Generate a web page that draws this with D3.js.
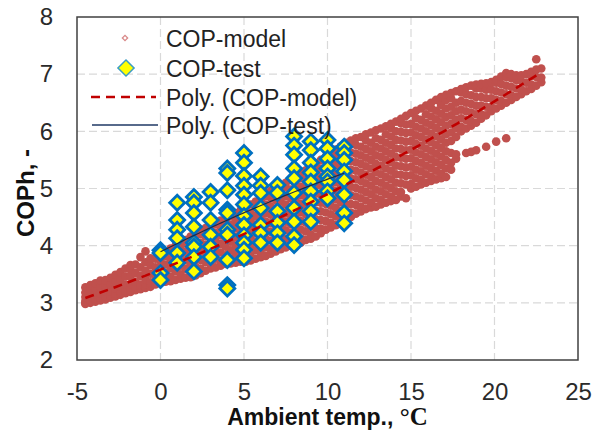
<!DOCTYPE html>
<html>
<meta charset="utf-8">
<script src="https://d3js.org/d3.v7.min.js"></script>
<style>
  body { margin: 0; background: #fff; }
</style>
<body>
<div id="chart"></div>
<script>

// axis ticks
var xTicks = [-5, 0, 5, 10, 15, 20, 25];
var yTicks = [2, 3, 4, 5, 6, 7, 8];

// COP-model: ambient temperature and the COP values found at that temperature
var modelTemp = [-4.5,-4.2,-3.9,-3.6,-3.3,-3.0,-2.7,-2.4,-2.1,-1.8,-1.5,-1.2,-0.9,-0.6,-0.3,0,0.3,0.6,0.9,1.2,1.5,1.8,2.1,2.4,2.7,3.0,3.3,3.6,3.9,4.2,4.5,4.8,5.1,5.4,5.7,6.0,6.3,6.6,6.9,7.2,7.5,7.8,8.1,8.4,8.7,9.0,9.3,9.6,9.9,10.2,10.5,10.8,11.1,11.4,11.7,12.0,12.3,12.6,12.9,13.2,13.5,13.8,14.1,14.4,14.7,15.0,15.3,15.6,15.9,16.2,16.5,16.8,17.1,17.4,17.7,18.0,18.3,18.6,18.9,19.2,19.5,19.8,20.1,20.4,20.7,21.0,21.3,21.6,21.9,22.2,22.5,22.8];
var modelCop = [
  [2.98,3.00,3.03,3.10,3.18,3.27],
  [3.00,3.02,3.05,3.12,3.22,3.31],
  [3.02,3.04,3.07,3.15,3.24,3.34],
  [3.04,3.06,3.09,3.16,3.28,3.39],
  [3.06,3.08,3.11,3.20,3.30,3.40],
  [3.09,3.11,3.13,3.20,3.33,3.44],
  [3.11,3.13,3.16,3.25,3.38,3.49],
  [3.14,3.16,3.19,3.28,3.41,3.54],
  [3.17,3.19,3.22,3.32,3.46,3.60],
  [3.19,3.21,3.24,3.33,3.46,3.58,3.66],
  [3.22,3.24,3.28,3.37,3.52,3.67],
  [3.24,3.26,3.30,3.32,3.47,3.62,3.80],
  [3.26,3.28,3.33,3.41,3.56,3.71,3.90],
  [3.28,3.30,3.34,3.36,3.51,3.66,3.78],
  [3.32,3.34,3.38,3.47,3.62,3.77],
  [3.35,3.37,3.40,3.43,3.58,3.73,3.82],
  [3.37,3.52,3.67,3.82,3.88],
  [3.38,3.46,3.61,3.76,3.91,3.95],
  [3.40,3.55,3.70,3.85,4.00],
  [3.42,3.50,3.65,3.80,3.95,4.05],
  [3.44,3.59,3.74,3.89,4.04,4.10],
  [3.45,3.53,3.68,3.83,3.98,4.13,4.16],
  [3.48,3.63,3.78,3.93,4.08,4.22],
  [3.52,3.60,3.75,3.90,4.05,4.20,4.27],
  [3.56,3.71,3.86,4.01,4.16,4.31],
  [3.60,3.68,3.83,3.98,4.13,4.28,4.36],
  [3.62,3.77,3.92,4.07,4.22,4.37,4.40],
  [3.65,3.73,3.88,4.03,4.18,4.33,4.44],
  [3.68,3.83,3.98,4.13,4.28,4.43,4.48],
  [3.69,3.77,3.92,4.07,4.22,4.37,4.52],
  [3.70,3.85,4.00,4.15,4.30,4.45,4.57],
  [3.72,3.80,3.95,4.10,4.25,4.40,4.55,4.62],
  [3.72,3.87,4.02,4.17,4.32,4.47,4.62,4.67],
  [3.74,3.82,3.97,4.12,4.27,4.42,4.57,4.72],
  [3.77,3.92,4.07,4.22,4.37,4.52,4.67,4.77],
  [3.80,3.88,4.03,4.18,4.33,4.48,4.63,4.78,4.82],
  [3.82,3.97,4.12,4.27,4.42,4.57,4.72,4.87,4.92],
  [3.86,3.94,4.09,4.24,4.39,4.54,4.69,4.84,4.96],
  [3.90,4.05,4.20,4.35,4.50,4.65,4.80,4.95,5.00],
  [3.94,4.02,4.17,4.32,4.47,4.62,4.77,4.92,5.05],
  [3.97,4.12,4.27,4.42,4.57,4.72,4.87,5.02,5.10],
  [4.00,4.08,4.23,4.38,4.53,4.68,4.83,4.98,5.15],
  [4.03,4.18,4.33,4.48,4.63,4.78,4.93,5.08,5.20],
  [4.05,4.13,4.28,4.43,4.58,4.73,4.88,5.03,5.18,5.26],
  [4.10,4.25,4.40,4.55,4.70,4.85,5.00,5.15,5.32],
  [4.12,4.20,4.35,4.50,4.65,4.80,4.95,5.10,5.25,5.38],
  [4.16,4.31,4.46,4.61,4.76,4.91,5.06,5.21,5.36,5.44],
  [4.22,4.30,4.45,4.60,4.75,4.90,5.05,5.20,5.35,5.50],
  [4.28,4.43,4.58,4.73,4.88,5.03,5.18,5.33,5.48,5.56],
  [4.32,4.40,4.55,4.70,4.85,5.00,5.15,5.30,5.45,5.62],
  [4.36,4.51,4.66,4.81,4.96,5.11,5.26,5.41,5.56,5.68],
  [4.38,4.46,4.61,4.76,4.91,5.06,5.21,5.36,5.51,5.66,5.74],
  [4.42,4.57,4.72,4.87,5.02,5.17,5.32,5.47,5.62,5.80],
  [4.50,4.58,4.73,4.88,5.03,5.18,5.33,5.48,5.63,5.78,5.84],
  [4.56,4.71,4.86,5.01,5.16,5.31,5.46,5.61,5.76,5.88],
  [4.60,4.68,4.83,4.98,5.13,5.28,5.43,5.58,5.73,5.90],
  [4.64,4.79,4.94,5.09,5.24,5.39,5.54,5.69,5.84,5.95],
  [4.67,4.75,4.90,5.05,5.20,5.35,5.50,5.65,5.80,5.98],
  [4.68,4.83,4.98,5.13,5.28,5.43,5.58,5.73,5.88,6.02],
  [4.72,4.80,4.95,5.10,5.25,5.40,5.55,5.70,5.85,6.05],
  [4.75,4.90,5.05,5.20,5.35,5.50,5.65,5.80,5.95,6.09],
  [4.78,4.86,5.01,5.16,5.31,5.46,5.61,5.76,5.91,6.06,6.13],
  [4.80,4.95,5.10,5.25,5.40,5.55,5.70,5.85,6.00,6.17],
  [4.86,4.94,5.09,5.24,5.39,5.54,5.69,5.84,5.99,6.14,6.22],
  [4.83,5.07,5.22,5.37,5.52,5.67,5.82,5.97,6.12,6.27],
  [5.00,5.08,5.23,5.38,5.53,5.68,5.83,5.98,6.13,6.32],
  [5.03,5.18,5.33,5.48,5.63,5.78,5.93,6.08,6.23,6.36],
  [5.07,5.15,5.30,5.45,5.60,5.75,5.90,6.05,6.20,6.40],
  [5.10,5.25,5.40,5.55,5.70,5.85,6.00,6.15,6.30,6.45],
  [5.13,5.21,5.36,5.51,5.66,5.81,5.96,6.11,6.26,6.41,6.50],
  [5.16,5.31,5.46,5.61,5.76,5.91,6.06,6.21,6.36,6.55],
  [5.18,5.26,5.41,5.56,5.71,5.86,6.01,6.16,6.31,6.46,6.60],
  [5.20,5.35,5.50,5.65,5.80,5.95,6.10,6.25,6.40,6.55,6.64],
  [5.33,5.45,5.62,5.83,5.98,6.13,6.28,6.43,6.58,6.67],
  [5.52,5.60,5.90,6.05,6.20,6.35,6.50,6.70],
  [6.00,6.08,6.23,6.38,6.53,6.68,6.74],
  [5.62,6.05,6.20,6.35,6.50,6.65,6.77],
  [5.64,6.10,6.18,6.33,6.48,6.63,6.80],
  [5.67,6.15,6.30,6.45,6.60,6.75,6.82],
  [6.22,6.30,6.45,6.60,6.75,6.83],
  [5.73,6.28,6.43,6.58,6.73,6.84],
  [6.35,6.43,6.58,6.73,6.86],
  [5.82,6.40,6.55,6.70,6.85,6.90],
  [6.45,6.53,6.68,6.83,6.96],
  [5.88,6.50,6.65,6.80,6.95,7.02],
  [6.55,6.63,6.78,6.93,7.00],
  [6.60,6.75,6.90,6.98],
  [6.65,6.73,6.88,6.98],
  [6.70,6.85,7.00],
  [6.74,6.82,6.97,7.04],
  [6.80,6.95,7.08,7.26],
  [6.86,6.94,7.10]
];

// COP-test: measured points, grouped by ambient temperature
var testTemp = [0, 1, 2, 3, 4, 5, 6, 7, 8, 9, 10, 11];
var testCop = [
  [3.92,3.87,3.52,3.40],
  [4.75,4.45,4.28,4.13,3.87,3.70],
  [4.85,4.75,4.57,4.33,4.05,3.98,3.80,3.55],
  [4.94,4.75,4.45,4.19,3.98,3.80],
  [5.35,5.27,4.97,4.63,4.57,4.28,4.19,3.75,3.31,3.25],
  [5.62,5.45,5.22,5.05,4.89,4.72,4.52,4.36,4.18,4.05,3.93,3.78],
  [5.21,5.05,4.92,4.66,4.36,4.22,4.05],
  [5.06,4.92,4.60,4.40,4.22,4.05],
  [5.91,5.75,5.59,5.35,5.18,4.92,4.66,4.42,4.16,4.01],
  [5.82,5.67,5.45,5.28,5.12,4.95,4.77,4.60,4.42],
  [5.85,5.70,5.52,5.35,5.21,5.12,4.95,4.83],
  [5.73,5.62,5.50,5.30,5.15,4.89,4.57,4.39]
];

var legendNames = ["COP-model", "COP-test", "Poly. (COP-model)", "Poly. (COP-test)"];

// set the dimensions and margins of the graph
var margin = {top: 17, right: 22, bottom: 72, left: 77},
    width = 600 - margin.left - margin.right,
    height = 432 - margin.top - margin.bottom;

var font = "'Liberation Sans', Arial, sans-serif";

var svg = d3.select("#chart")
  .append("svg")
    .attr("width", width + margin.left + margin.right)
    .attr("height", height + margin.top + margin.bottom)
    .style("font-family", font)
  .append("g")
    .attr("transform", "translate(" + margin.left + "," + margin.top + ")");

var x = d3.scaleLinear().domain([-5, 25]).range([0, width]);
var y = d3.scaleLinear().domain([2, 8]).range([height, 0]);

// dashed grid
svg.append("g").selectAll("line")
  .data(xTicks.slice(1, -1))
  .enter().append("line")
    .attr("x1", function(d) { return x(d); })
    .attr("x2", function(d) { return x(d); })
    .attr("y1", 0)
    .attr("y2", height)
    .attr("stroke", "#d9d9d9")
    .attr("stroke-width", 1.2)
    .attr("stroke-dasharray", "8,4");

svg.append("g").selectAll("line")
  .data(yTicks.slice(1, -1))
  .enter().append("line")
    .attr("x1", 0)
    .attr("x2", width)
    .attr("y1", function(d) { return y(d); })
    .attr("y2", function(d) { return y(d); })
    .attr("stroke", "#d9d9d9")
    .attr("stroke-width", 1.2)
    .attr("stroke-dasharray", "8,4");

// axes, labels only (plain hyphen for negatives, no decimals)
var xAxis = svg.append("g")
  .attr("transform", "translate(0," + height + ")")
  .call(d3.axisBottom(x).tickValues(xTicks).tickSize(0).tickPadding(23)
    .tickFormat(function(d) { return String(d); }));
var yAxis = svg.append("g")
  .call(d3.axisLeft(y).tickValues(yTicks).tickSize(0).tickPadding(24)
    .tickFormat(function(d) { return String(d); }));

[xAxis, yAxis].forEach(function(a) {
  a.attr("font-family", null).attr("font-size", null);
  a.select(".domain").remove();
  a.selectAll("text").attr("font-size", 24).attr("fill", "#2a2a2a");
});

// plot border
svg.append("rect")
  .attr("width", width)
  .attr("height", height)
  .attr("fill", "none")
  .attr("stroke", "#404040")
  .attr("stroke-width", 1.5);

// flatten the grouped values into points
var modelPts = [];
modelTemp.forEach(function(t, i) {
  modelCop[i].forEach(function(c) { modelPts.push([t, c]); });
});
var testPts = [];
testTemp.forEach(function(t, i) {
  testCop[i].forEach(function(c) { testPts.push([t, c]); });
});

svg.append("g").selectAll("circle")
  .data(modelPts)
  .enter().append("circle")
    .attr("cx", function(d) { return x(d[0]); })
    .attr("cy", function(d) { return y(d[1]); })
    .attr("r", 4.3)
    .attr("fill", "#c0504d");

var diamond = d3.symbol().type(d3.symbolSquare).size(112);

svg.append("g").selectAll("path")
  .data(testPts)
  .enter().append("path")
    .attr("d", diamond)
    .attr("transform", function(d) { return "translate(" + x(d[0]) + "," + y(d[1]) + ") rotate(45)"; })
    .attr("fill", "#ffff00")
    .attr("stroke", "#0070c0")
    .attr("stroke-width", 2.8);

// least squares polynomial (order 2), like the spreadsheet trendline
function polyfit(pts, deg) {
  var n = deg + 1, A = [], b = [];
  for (var i = 0; i < n; i++) {
    A.push(new Array(n).fill(0));
    b.push(0);
  }
  pts.forEach(function(p) {
    for (var i = 0; i < n; i++) {
      for (var j = 0; j < n; j++) A[i][j] += Math.pow(p[0], i + j);
      b[i] += p[1] * Math.pow(p[0], i);
    }
  });
  for (var c = 0; c < n; c++) {
    for (var r = c + 1; r < n; r++) {
      var f = A[r][c] / A[c][c];
      for (var k = c; k < n; k++) A[r][k] -= f * A[c][k];
      b[r] -= f * b[c];
    }
  }
  var coef = new Array(n).fill(0);
  for (var r2 = n - 1; r2 >= 0; r2--) {
    var s = b[r2];
    for (var k2 = r2 + 1; k2 < n; k2++) s -= A[r2][k2] * coef[k2];
    coef[r2] = s / A[r2][r2];
  }
  return coef;
}

function trendPath(pts) {
  var coef = polyfit(pts, 2);
  var ext = d3.extent(pts, function(d) { return d[0]; });
  var xs = d3.range(61).map(function(i) { return ext[0] + (ext[1] - ext[0]) * i / 60; });
  return d3.line()
    .x(function(t) { return x(t); })
    .y(function(t) { return y(coef[0] + coef[1] * t + coef[2] * t * t); })(xs);
}

svg.append("path")
  .attr("d", trendPath(modelPts))
  .attr("fill", "none")
  .attr("stroke", "#c00000")
  .attr("stroke-width", 2.6)
  .attr("stroke-dasharray", "9,6");

svg.append("path")
  .attr("d", trendPath(testPts))
  .attr("fill", "none")
  .attr("stroke", "#1f2a44")
  .attr("stroke-width", 1.2);

// legend
var legend = svg.append("g");
var rowY = [21, 51, 80, 108];

legend.append("path")
  .attr("d", d3.symbol().type(d3.symbolSquare).size(14))
  .attr("transform", "translate(48," + rowY[0] + ") rotate(45)")
  .attr("fill", "#fff")
  .attr("stroke", "#d98a8a")
  .attr("stroke-width", 1.3);

legend.append("path")
  .attr("d", d3.symbol().type(d3.symbolSquare).size(130))
  .attr("transform", "translate(49," + rowY[1] + ") rotate(45)")
  .attr("fill", "#ffff00")
  .attr("stroke", "#3a9cc4")
  .attr("stroke-width", 1.5);

legend.append("line")
  .attr("x1", 14).attr("x2", 79)
  .attr("y1", rowY[2]).attr("y2", rowY[2])
  .attr("stroke", "#c00000")
  .attr("stroke-width", 2.6)
  .attr("stroke-dasharray", "9,6");

legend.append("line")
  .attr("x1", 15).attr("x2", 81)
  .attr("y1", rowY[3]).attr("y2", rowY[3])
  .attr("stroke", "#1f3864")
  .attr("stroke-width", 1.4);

legend.selectAll("text")
  .data(legendNames)
  .enter().append("text")
    .attr("x", 89)
    .attr("y", function(d, i) { return rowY[i] + 9; })
    .attr("font-size", 23)
    .attr("fill", "#222")
    .text(function(d) { return d; });

// axis titles
var xTitle = svg.append("text")
  .attr("x", width / 2)
  .attr("y", 408)
  .attr("text-anchor", "middle")
  .attr("font-size", 23)
  .attr("font-weight", "bold")
  .attr("fill", "#111");
xTitle.append("tspan").text("Ambient temp., ");
xTitle.append("tspan")
  .attr("font-family", "'Liberation Serif', 'Times New Roman', serif")
  .attr("font-size", 25)
  .text("°C");

svg.append("text")
  .attr("transform", "translate(-43," + (176) + ") rotate(-90)")
  .attr("text-anchor", "middle")
  .attr("font-size", 24)
  .attr("font-weight", "bold")
  .attr("fill", "#111")
  .text("COPh, -");

</script>
</body>
</html>
